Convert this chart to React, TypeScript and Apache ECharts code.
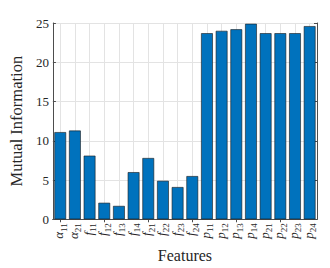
import React, { useEffect, useRef } from "react";
import * as echarts from "echarts";

const categories = ["α_11", "α_21", "f_11", "f_12", "f_13", "f_14", "f_21", "f_22", "f_23", "f_24", "p_11", "p_12", "p_13", "p_14", "p_21", "p_22", "p_23", "p_24"];
const values = [11.1, 11.3, 8.1, 2.1, 1.7, 6.0, 7.8, 4.9, 4.1, 5.5, 23.7, 24.0, 24.2, 24.9, 23.7, 23.7, 23.7, 24.6];
const yTicks = { min: 0, max: 25, interval: 5 };

const FONT = "'Liberation Serif', 'DejaVu Serif', serif";
const TEXT = "#262626";
const AXIS = "#4d4d4d";
const GRID = "#e3e3e3";

export default function App() {
  const ref = useRef<HTMLDivElement>(null);
  useEffect(() => {
    if (!ref.current) return;
    const chart = echarts.init(ref.current, undefined, { renderer: "svg" });
    chart.setOption({
      animation: false,
      backgroundColor: "#ffffff",
      grid: { left: 44, top: 23, right: 13, bottom: 45, containLabel: false },
      xAxis: [
        {
          type: "category",
          data: categories,
          name: "Features",
          nameLocation: "middle",
          nameGap: 27,
          nameTextStyle: { fontFamily: FONT, fontSize: 16, color: TEXT },
          axisLine: { show: true, lineStyle: { color: AXIS, width: 1 } },
          axisTick: { show: true, inside: true, alignWithLabel: true, length: 3, lineStyle: { color: AXIS } },
          axisLabel: {
            rotate: 90,
            margin: 4,
            interval: 0,
            formatter: (v: string) => {
              const [b, s] = v.split("_");
              return `{b|${b}}{s|${s}}`;
            },
            rich: {
              b: { fontFamily: FONT, fontStyle: "italic", fontSize: 13, color: TEXT, verticalAlign: "bottom", padding: [0, 0, 3, 0] },
              s: { fontFamily: FONT, fontSize: 9, color: TEXT, verticalAlign: "bottom" },
            },
          },
          splitLine: { show: true, alignWithLabel: true, lineStyle: { color: GRID, width: 1 } },
        },
        {
          type: "category",
          data: categories,
          position: "top",
          axisLine: { show: true, lineStyle: { color: AXIS, width: 1 } },
          axisTick: { show: true, inside: true, alignWithLabel: true, length: 3, lineStyle: { color: AXIS } },
          axisLabel: { show: false },
          splitLine: { show: false },
        },
      ],
      yAxis: [
        {
          type: "value",
          min: yTicks.min,
          max: yTicks.max,
          interval: yTicks.interval,
          name: "Mutual Information",
          nameLocation: "middle",
          nameGap: 27,
          nameTextStyle: { fontFamily: FONT, fontSize: 16.5, color: TEXT },
          axisLine: { show: true, lineStyle: { color: AXIS, width: 1 } },
          axisTick: { show: true, inside: true, length: 3, lineStyle: { color: AXIS } },
          axisLabel: { fontFamily: FONT, fontSize: 13, color: TEXT, margin: 4 },
          splitLine: { show: true, lineStyle: { color: GRID, width: 1 } },
        },
        {
          type: "value",
          min: yTicks.min,
          max: yTicks.max,
          interval: yTicks.interval,
          position: "right",
          axisLine: { show: true, lineStyle: { color: AXIS, width: 1 } },
          axisTick: { show: true, inside: true, length: 3, lineStyle: { color: AXIS } },
          axisLabel: { show: false },
          splitLine: { show: false },
        },
      ],
      series: [
        {
          type: "bar",
          data: values,
          xAxisIndex: 0,
          yAxisIndex: 0,
          barWidth: "80%",
          itemStyle: { color: "#0072BD", borderColor: "#1a1a1a", borderWidth: 0.6 },
          z: 3,
        },
      ],
    });
    return () => chart.dispose();
  }, []);
  return <div ref={ref} style={{ width: 330, height: 268, position: "absolute", left: 0, top: 0 }} />;
}
